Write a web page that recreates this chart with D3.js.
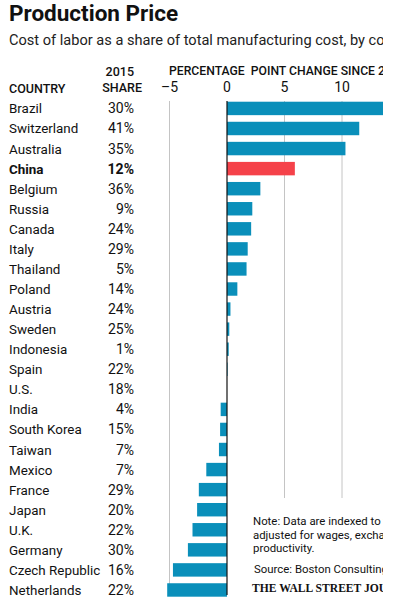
<!DOCTYPE html>
<html>
<head>
<meta charset="utf-8">
<script src="https://cdn.jsdelivr.net/npm/d3@7"></script>
<style>
  body { margin: 0; background: #fff; }
  svg { display: block; font-family: Roboto, "Noto Sans", sans-serif; }
</style>
</head>
<body>
<svg id="chart" width="398" height="600"></svg>
<script>
const countries = ['Brazil', 'Switzerland', 'Australia', 'China', 'Belgium', 'Russia', 'Canada', 'Italy',
  'Thailand', 'Poland', 'Austria', 'Sweden', 'Indonesia', 'Spain', 'U.S.', 'India', 'South Korea',
  'Taiwan', 'Mexico', 'France', 'Japan', 'U.K.', 'Germany', 'Czech Republic', 'Netherlands'];
const shares = [30, 41, 35, 12, 36, 9, 24, 29, 5, 14, 24, 25, 1, 22, 18, 4, 15, 7, 7, 29, 20, 22, 30, 16, 22];
const changes = [14.0, 11.5, 10.3, 5.9, 2.9, 2.2, 2.1, 1.8, 1.7, 0.9, 0.3, 0.2, 0.15, 0.05, 0,
  -0.55, -0.6, -0.7, -1.8, -2.45, -2.6, -3.0, -3.4, -4.7, -5.2];
const ticks = [-5, 0, 5, 10];
const tickLabels = ['\u20135', '0', '5', '10'];
const highlight = 'China';

const CLIP = 383;
const BLUE = '#0a8fba', RED = '#f5424a', GRID = '#c4c4c4';

const svg = d3.select('#chart');
svg.append('defs').append('clipPath').attr('id', 'clip')
  .append('rect').attr('x', 0).attr('y', 0).attr('width', CLIP).attr('height', 600);

// the source image is cropped at the right, so everything is clipped there
const g = svg.append('g').attr('clip-path', 'url(#clip)');

const x = d3.scaleLinear().domain([-5, 10]).range([169.5, 342]);
const y = d3.scaleBand().domain(countries).range([98.4, 600]).paddingInner(0.33).paddingOuter(0.165);

// titles
g.append('text').attr('x', 9).attr('y', 21)
  .style('font-size', '22.5px').style('font-weight', 700).attr('fill', '#111')
  .text('Production Price');
g.append('text').attr('x', 9).attr('y', 45)
  .style('font-size', '14.6px').attr('fill', '#222')
  .text('Cost of labor as a share of total manufacturing cost, by country');

// column headers
const hdr = g.append('g').style('font-size', '12.5px').style('font-weight', 500).attr('fill', '#111');
hdr.append('text').attr('x', 9).attr('y', 93).text('COUNTRY');
hdr.append('text').attr('x', 134).attr('y', 76).attr('text-anchor', 'end').text('2015');
hdr.append('text').attr('x', 142).attr('y', 92).attr('text-anchor', 'end').text('SHARE');
hdr.append('text').attr('x', 169).attr('y', 75).style('font-size', '12.2px')
  .text('PERCENTAGE  POINT CHANGE SINCE 2004')
  .style('white-space', 'pre');

// tick labels
g.append('g').selectAll('text').data(ticks).join('text')
  .attr('x', d => x(d)).attr('y', 92).attr('text-anchor', 'middle')
  .style('font-size', '14px').attr('fill', '#111')
  .text((d, i) => tickLabels[i]);

// gridlines (5 and 10 stop above the note)
const gridBottom = { '-5': 596, '5': 498, '10': 498 };
g.append('g').selectAll('line').data(ticks.filter(t => t !== 0)).join('line')
  .attr('x1', d => x(d)).attr('x2', d => x(d))
  .attr('y1', 101).attr('y2', d => gridBottom[d])
  .attr('stroke', GRID).attr('stroke-width', 1);

// bars
g.append('g').selectAll('rect').data(countries).join('rect')
  .attr('x', (d, i) => x(Math.min(0, changes[i])))
  .attr('y', d => y(d))
  .attr('width', (d, i) => Math.abs(x(changes[i]) - x(0)))
  .attr('height', y.bandwidth())
  .attr('fill', d => d === highlight ? RED : BLUE);

// zero line
g.append('line').attr('x1', x(0)).attr('x2', x(0)).attr('y1', 101).attr('y2', 595)
  .attr('stroke', '#111').attr('stroke-width', 1.2);

// row labels
const rows = g.append('g').selectAll('g').data(countries).join('g')
  .attr('transform', d => `translate(0,${y(d) + y.bandwidth() / 2 + 5})`)
  .style('font-size', '13.4px').attr('fill', '#111')
  .style('font-weight', d => d === highlight ? 700 : 400);
rows.append('text').attr('x', 9).text(d => d);
rows.append('text').attr('x', 134).attr('text-anchor', 'end').style('font-size', '14px')
  .text((d, i) => shares[i] + '%');

// note and source
const note = g.append('g').style('font-size', '11.4px').attr('fill', '#111');
['Note: Data are indexed to the U.S. and', 'adjusted for wages, exchange rates and', 'productivity.']
  .forEach((t, i) => note.append('text').attr('x', 253).attr('y', 525 + i * 13.5).text(t));
note.append('text').attr('x', 254).attr('y', 573).text('Source: Boston Consulting Group');
g.append('text').attr('x', 252).attr('y', 592)
  .style('font-family', '"Liberation Serif", "DejaVu Serif", serif')
  .style('font-size', '11.6px').style('font-weight', 700).attr('fill', '#111')
  .text('THE WALL STREET JOURNAL');
</script>
</body>
</html>
